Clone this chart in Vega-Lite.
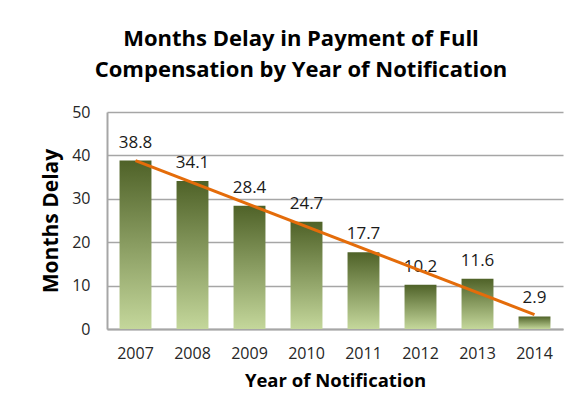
{
  "$schema": "https://vega.github.io/schema/vega-lite/v6.json",
  "width": 456,
  "height": 217,
  "autosize": {"type": "none"},
  "padding": {"left": 107, "top": 112, "right": 14, "bottom": 90},
  "background": "white",
  "title": {
    "text": ["Months Delay in Payment of Full", "Compensation by Year of Notification"],
    "font": "Open Sans",
    "fontSize": 22,
    "fontWeight": "bold",
    "color": "#000000",
    "lineHeight": 31,
    "anchor": "middle",
    "dx": -34,
    "offset": 22
  },
  "data": {
    "values": [
      {"Year": 2007, "Delay": 38.8},
      {"Year": 2008, "Delay": 34.1},
      {"Year": 2009, "Delay": 28.4},
      {"Year": 2010, "Delay": 24.7},
      {"Year": 2011, "Delay": 17.7},
      {"Year": 2012, "Delay": 10.2},
      {"Year": 2013, "Delay": 11.6},
      {"Year": 2014, "Delay": 2.9}
    ]
  },
  "encoding": {
    "x": {
      "field": "Year",
      "type": "ordinal",
      "scale": {"paddingInner": 0.44, "paddingOuter": 0.22},
      "axis": {
        "title": "Year of Notification",
        "titleFontSize": 18.5,
        "labelAngle": 0,
        "ticks": false,
        "grid": false,
        "domain": true,
        "labelPadding": 16,
        "titlePadding": 10,
        "domainColor": "#a6a6a6",
        "domainWidth": 2
      }
    },
    "y": {
      "field": "Delay",
      "type": "quantitative",
      "scale": {"domain": [0, 50]},
      "axis": {
        "title": "Months Delay",
        "titleFontSize": 21,
        "values": [0, 10, 20, 30, 40, 50],
        "ticks": false,
        "grid": true,
        "domain": true,
        "labelPadding": 17,
        "titlePadding": 10,
        "gridColor": "#a6a6a6",
        "gridWidth": 1.5,
        "gridOpacity": 1,
        "domainColor": "#a6a6a6",
        "domainWidth": 2
      }
    }
  },
  "layer": [
    {
      "mark": {
        "type": "bar",
        "color": {
          "gradient": "linear",
          "x1": 0, "y1": 0, "x2": 0, "y2": 1,
          "stops": [
            {"offset": 0, "color": "#4f6228"},
            {"offset": 1, "color": "#c4d79b"}
          ]
        }
      }
    },
    {
      "mark": {
        "type": "text",
        "baseline": "alphabetic",
        "dy": -13,
        "font": "Open Sans",
        "fontSize": 17,
        "color": "#1a1a1a"
      },
      "encoding": {"text": {"field": "Delay", "type": "quantitative", "format": ".1f"}}
    },
    {
      "transform": [{"regression": "Delay", "on": "Year"}],
      "mark": {"type": "line", "color": "#e46c0a", "strokeWidth": 3}
    }
  ],
  "config": {
    "view": {"stroke": null},
    "axis": {
      "labelFont": "Open Sans",
      "labelFontSize": 16,
      "labelColor": "#262626",
      "titleFont": "Open Sans",
      "titleFontWeight": "bold",
      "titleColor": "#000000"
    }
  }
}
